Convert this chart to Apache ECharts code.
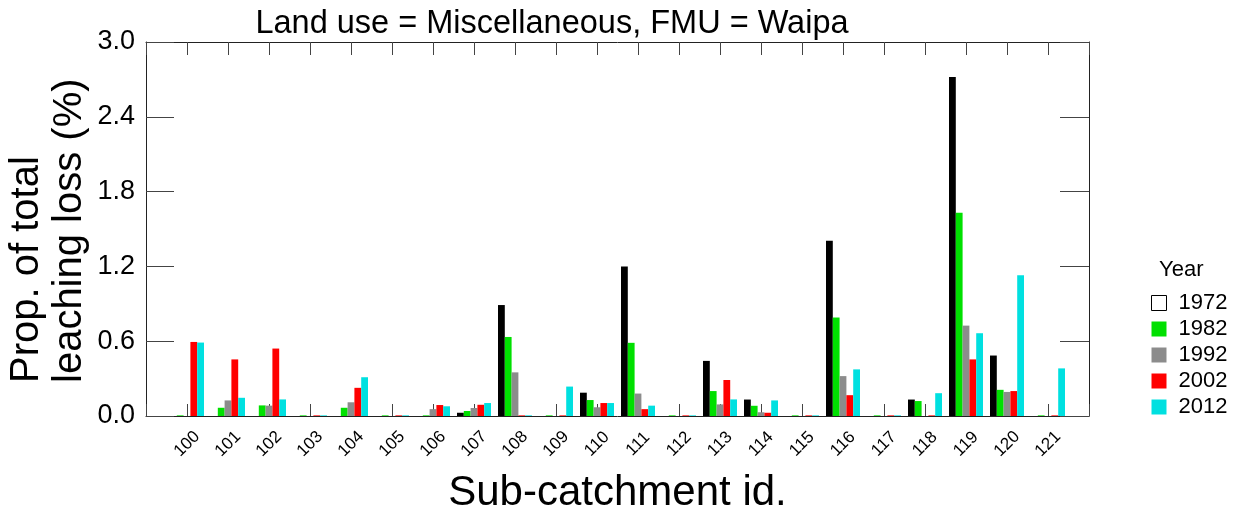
<!DOCTYPE html>
<html>
<head>
<meta charset="utf-8">
<script src="https://cdn.jsdelivr.net/npm/echarts@6/dist/echarts.min.js"></script>
<style>html,body{margin:0;padding:0;background:#fff}#c{width:1235px;height:519px}</style>
</head>
<body>
<div id="c"></div>
<script>
const categories = [100,101,102,103,104,105,106,107,108,109,110,111,112,113,114,115,116,117,118,119,120,121];
const years = ['1972','1982','1992','2002','2012'];
const v1972 = [0,0,0,0,0,0,0,0.026,0.89,0,0.187,1.2,0,0.442,0.132,0,1.405,0,0.132,2.72,0.485,0];
const v1982 = [0.005,0.066,0.085,0.005,0.066,0.005,0.005,0.04,0.634,0.005,0.128,0.587,0.005,0.2,0.082,0.005,0.79,0.005,0.12,1.63,0.21,0.005];
const v1992 = [0,0.125,0.083,0,0.11,0,0.055,0.064,0.35,0,0.07,0.18,0,0.093,0.03,0,0.32,0,0,0.725,0.193,0];
const v2002 = [0.594,0.454,0.541,0.005,0.226,0.005,0.088,0.09,0.005,0.005,0.104,0.055,0.005,0.289,0.026,0.005,0.167,0.005,0.005,0.454,0.2,0.005];
const v2012 = [0.589,0.146,0.133,0.005,0.311,0.005,0.078,0.104,0.005,0.236,0.104,0.083,0.005,0.133,0.125,0.005,0.374,0.005,0.183,0.664,1.13,0.382];
const yTicks = ['0.0','0.6','1.2','1.8','2.4','3.0'];
const seriesValues = [v1972, v1982, v1992, v2002, v2012];
const colors = ['#000000','#00e000','#8c8c8c','#ff0000','#00e0e0'];
const FONT = "'Liberation Sans', Arial, sans-serif";

const chart = echarts.init(document.getElementById('c'), null, {renderer:'canvas'});
const xMin = categories[0] - 1, xMax = categories[categories.length-1] + 1;
const lineCol = '#222';
const xBase = {
  type:'value', min:xMin, max:xMax, interval:1,
  axisLine:{show:true, onZero:false, lineStyle:{color:lineCol, width:1}},
  splitLine:{show:false}
};
const yBase = {
  type:'value', min:0, max:3, interval:0.6,
  axisLine:{show:true, onZero:false, lineStyle:{color:lineCol, width:1}},
  splitLine:{show:false}
};
const option = {
  animation:false,
  backgroundColor:'#fff',
  title:[
    {text:'Land use = Miscellaneous, FMU = Waipa', left:547, top:3, textAlign:'center',
     textStyle:{fontFamily:FONT, fontSize:32.5, fontWeight:'normal', color:'#000'}},
    {text:'Year', left:1154, top:254,
     textStyle:{fontFamily:FONT, fontSize:22, fontWeight:'normal', color:'#000'}}
  ],
  legend:{
    orient:'vertical', left:1146, top:287, itemWidth:15, itemHeight:15, itemGap:4, icon:'rect',
    textStyle:{fontFamily:FONT, fontSize:22, color:'#000', lineHeight:22, padding:[0,0,0,7]},
    data: years.map((y,i)=> i===0 ? {name:y, itemStyle:{color:'#fff', borderColor:'#000', borderWidth:1}} : {name:y})
  },
  grid:{left:146, right:146, top:42, bottom:100.5, containLabel:false},
  xAxis:[
    Object.assign({}, xBase, {
      position:'bottom',
      axisTick:{show:true, inside:true, length:12, lineStyle:{color:'#444'}},
      axisLabel:{show:true, rotate:45, align:'center', verticalAlign:'middle', margin:28,
        fontFamily:FONT, fontSize:17, color:'#000',
        formatter:v => (v>=categories[0] && v<=categories[categories.length-1]) ? String(v) : ''},
      name:'Sub-catchment id.', nameLocation:'middle', nameGap:77,
      nameTextStyle:{fontFamily:FONT, fontSize:42, color:'#000', verticalAlign:'middle'}
    }),
    Object.assign({}, xBase, {
      position:'top',
      axisTick:{show:true, inside:true, length:13, lineStyle:{color:'#444'}},
      axisLabel:{show:false}
    })
  ],
  yAxis:[
    Object.assign({}, yBase, {
      position:'left',
      axisTick:{show:true, inside:true, length:28, lineStyle:{color:'#444'}},
      axisLabel:{show:true, margin:11, fontFamily:FONT, fontSize:27, color:'#000',
        formatter:v => yTicks[Math.round(v/0.6)] || ''}
    }),
    Object.assign({}, yBase, {
      position:'right',
      axisTick:{show:true, inside:true, length:29, lineStyle:{color:'#444'}},
      axisLabel:{show:false}
    })
  ],
  graphic:[{
    type:'text', rotation:Math.PI/2, x:48, y:383, z:10,
    style:{text:'Prop. of total\nleaching loss (%)', font:"40px 'Liberation Sans', Arial, sans-serif",
      fill:'#000', align:'left', verticalAlign:'middle', lineHeight:43}
  }],
  series: years.map((y,i)=>({
    name:y, type:'bar', xAxisIndex:0, yAxisIndex:0,
    barWidth:6.8, barGap:'0%',
    itemStyle:{color:colors[i]},
    data: categories.map((c,j)=>[c, seriesValues[i][j]])
  }))
};
chart.setOption(option);
</script>
</body>
</html>
